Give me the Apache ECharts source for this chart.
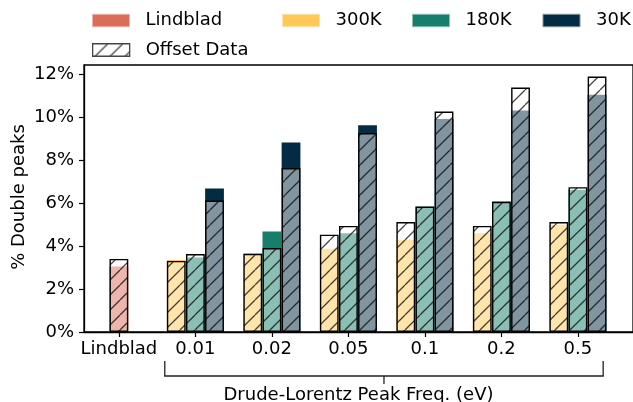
<!DOCTYPE html>
<html>
<head>
<meta charset="utf-8">
<script src="https://cdn.jsdelivr.net/npm/echarts@6/dist/echarts.min.js"></script>
<style>
  html, body { margin: 0; padding: 0; background: #fff; }
  #chart { width: 633px; height: 402px; }
</style>
</head>
<body>
<div id="chart"></div>
<script>
// Tick labels along the x axis (one per group)
const categories = ['Lindblad', '0.01', '0.02', '0.05', '0.1', '0.2', '0.5'];

// Percentage of double peaks, original runs
const lindbladValues = [3.05];
const k300Values = [3.35, 3.67, 3.87, 4.29, 4.60, 4.99];
const k180Values = [3.47, 4.68, 4.60, 5.83, 6.07, 6.62];
const k30Values  = [6.68, 8.82, 9.63, 9.92, 10.31, 11.04];

// Percentage of double peaks, offset runs
const lindbladOffset = [3.40];
const k300Offset = [3.31, 3.64, 4.53, 5.12, 4.94, 5.12];
const k180Offset = [3.63, 3.91, 4.94, 5.84, 6.06, 6.74];
const k30Offset  = [6.12, 7.63, 9.26, 10.26, 11.38, 11.89];

const yTicks = [0, 2, 4, 6, 8, 10, 12];

const FONT = 'DejaVu Sans';
const COLORS = { lindblad: '#DA6C58', k300: '#FFC857', k180: '#177E6B', k30: '#032B43' };

// Diagonal '/' hatch tile over a half-transparent white wash
function hatchTile(bg) {
  const s = 15;
  const c = document.createElement('canvas');
  c.width = s; c.height = s;
  const ctx = c.getContext('2d');
  ctx.fillStyle = bg;
  ctx.fillRect(0, 0, s, s);
  ctx.strokeStyle = 'rgba(0,0,0,0.72)';
  ctx.lineWidth = 1.3;
  for (let k = -1; k <= 1; k++) {
    ctx.beginPath();
    ctx.moveTo(k * s, s);
    ctx.lineTo(k * s + s, 0);
    ctx.stroke();
  }
  return { image: c, repeat: 'repeat' };
}
const overlayFill = hatchTile('rgba(255,255,255,0.5)');
const legendHatch = hatchTile('#ffffff');

// Group i (1..6) holds 300K / 180K / 30K side by side, a quarter unit apart
const BAR = 0.25;
const pos = (values, shift) => values.map((v, i) => [i + 1 + shift, v]);

const offsetData = [
  [0, lindbladOffset[0]],
  ...pos(k300Offset, -BAR),
  ...pos(k180Offset, 0),
  ...pos(k30Offset, BAR)
];

const X_MIN = -0.456, X_MAX = 6.72;
const GRID = { left: 84, right: -2, top: 65, bottom: 70 };
const plotWidth = 633 - GRID.left - GRID.right;
const barPx = BAR * plotWidth / (X_MAX - X_MIN) - 0.4;

function barSeries(name, data, color) {
  return {
    name, type: 'bar', data,
    barWidth: barPx, barGap: '-100%',
    itemStyle: { color, borderWidth: 0 },
    silent: true
  };
}

function legendAt(name, left, top, itemStyle) {
  return {
    data: [{ name, icon: 'rect', itemStyle }],
    left, top, padding: 0,
    itemWidth: 37, itemHeight: 12.5,
    selectedMode: false,
    textStyle: { fontFamily: FONT, fontSize: 18, color: '#000', padding: [0, 0, 0, 11] }
  };
}

const chart = echarts.init(document.getElementById('chart'), null, { renderer: 'canvas' });

chart.setOption({
  animation: false,
  backgroundColor: '#fff',
  grid: Object.assign({ show: true, borderColor: '#000', borderWidth: 1.3, backgroundColor: 'transparent' }, GRID),
  legend: [
    legendAt('Lindblad', 92, 11.5, { color: COLORS.lindblad, borderColor: '#ECB5AB', borderWidth: 1 }),
    legendAt('300K', 282, 11.5, { color: COLORS.k300, borderColor: '#FFE3AB', borderWidth: 1 }),
    legendAt('180K', 412, 11.5, { color: COLORS.k180, borderColor: '#8BBEB5', borderWidth: 1 }),
    legendAt('30K', 542.5, 11.5, { color: COLORS.k30, borderColor: '#8195A1', borderWidth: 1 }),
    legendAt('Offset Data', 92, 41, { color: legendHatch, borderColor: '#444', borderWidth: 1.3 })
  ],
  xAxis: {
    type: 'value', min: X_MIN, max: X_MAX,
    splitLine: { show: false },
    axisLine: { show: true, onZero: false, lineStyle: { color: '#000', width: 1.3 } },
    axisTick: { show: true, customValues: categories.map((_, i) => i), length: 5, lineStyle: { color: '#000', width: 1.2 } },
    axisLabel: {
      customValues: categories.map((_, i) => i),
      formatter: v => categories[Math.round(v)],
      fontFamily: FONT, fontSize: 18, color: '#000', margin: 8
    }
  },
  yAxis: {
    type: 'value', min: 0, max: 12.43,
    splitLine: { show: false },
    axisLine: { show: true, onZero: false, lineStyle: { color: '#000', width: 1.3 } },
    axisTick: { show: true, customValues: yTicks, length: 5, lineStyle: { color: '#000', width: 1.2 } },
    axisLabel: {
      customValues: yTicks,
      formatter: v => v + '%',
      fontFamily: FONT, fontSize: 18, color: '#000', margin: 10
    }
  },
  series: [
    barSeries('Lindblad', [[0, lindbladValues[0]]], COLORS.lindblad),
    barSeries('300K', pos(k300Values, -BAR), COLORS.k300),
    barSeries('180K', pos(k180Values, 0), COLORS.k180),
    barSeries('30K', pos(k30Values, BAR), COLORS.k30),
    {
      name: 'Offset Data', type: 'bar', data: offsetData,
      barWidth: barPx, barGap: '-100%', silent: true,
      itemStyle: { color: overlayFill, borderColor: '#000', borderWidth: 1.4 }
    }
  ]
});

// Bracket spanning the Drude-Lorentz groups; axis caption centred under the plot
const xPix = v => chart.convertToPixel({ xAxisIndex: 0 }, v);
const bL = xPix(0.6), bR = xPix(6.33), bM = (bL + bR) / 2;
const plotMid = GRID.left + plotWidth / 2;
chart.setOption({
  graphic: [
    {
      type: 'polyline', silent: true,
      shape: { points: [[bL, 361], [bL, 376], [bR, 376], [bR, 361]] },
      style: { stroke: '#222', lineWidth: 1.3, fill: null }
    },
    {
      type: 'line', silent: true,
      shape: { x1: bM, y1: 376, x2: bM, y2: 384 },
      style: { stroke: '#222', lineWidth: 1.3 }
    },
    {
      type: 'text', silent: true, x: plotMid - 1, y: 395,
      style: { text: 'Drude-Lorentz Peak Freq. (eV)', fontFamily: FONT, fontSize: 18, fill: '#000', align: 'center', verticalAlign: 'middle' }
    },
    {
      type: 'text', silent: true, x: 19.5, y: 197, rotation: Math.PI / 2,
      style: { text: '% Double peaks', fontFamily: FONT, fontSize: 18, fill: '#000', align: 'center', verticalAlign: 'middle' }
    }
  ]
});
</script>
</body>
</html>
